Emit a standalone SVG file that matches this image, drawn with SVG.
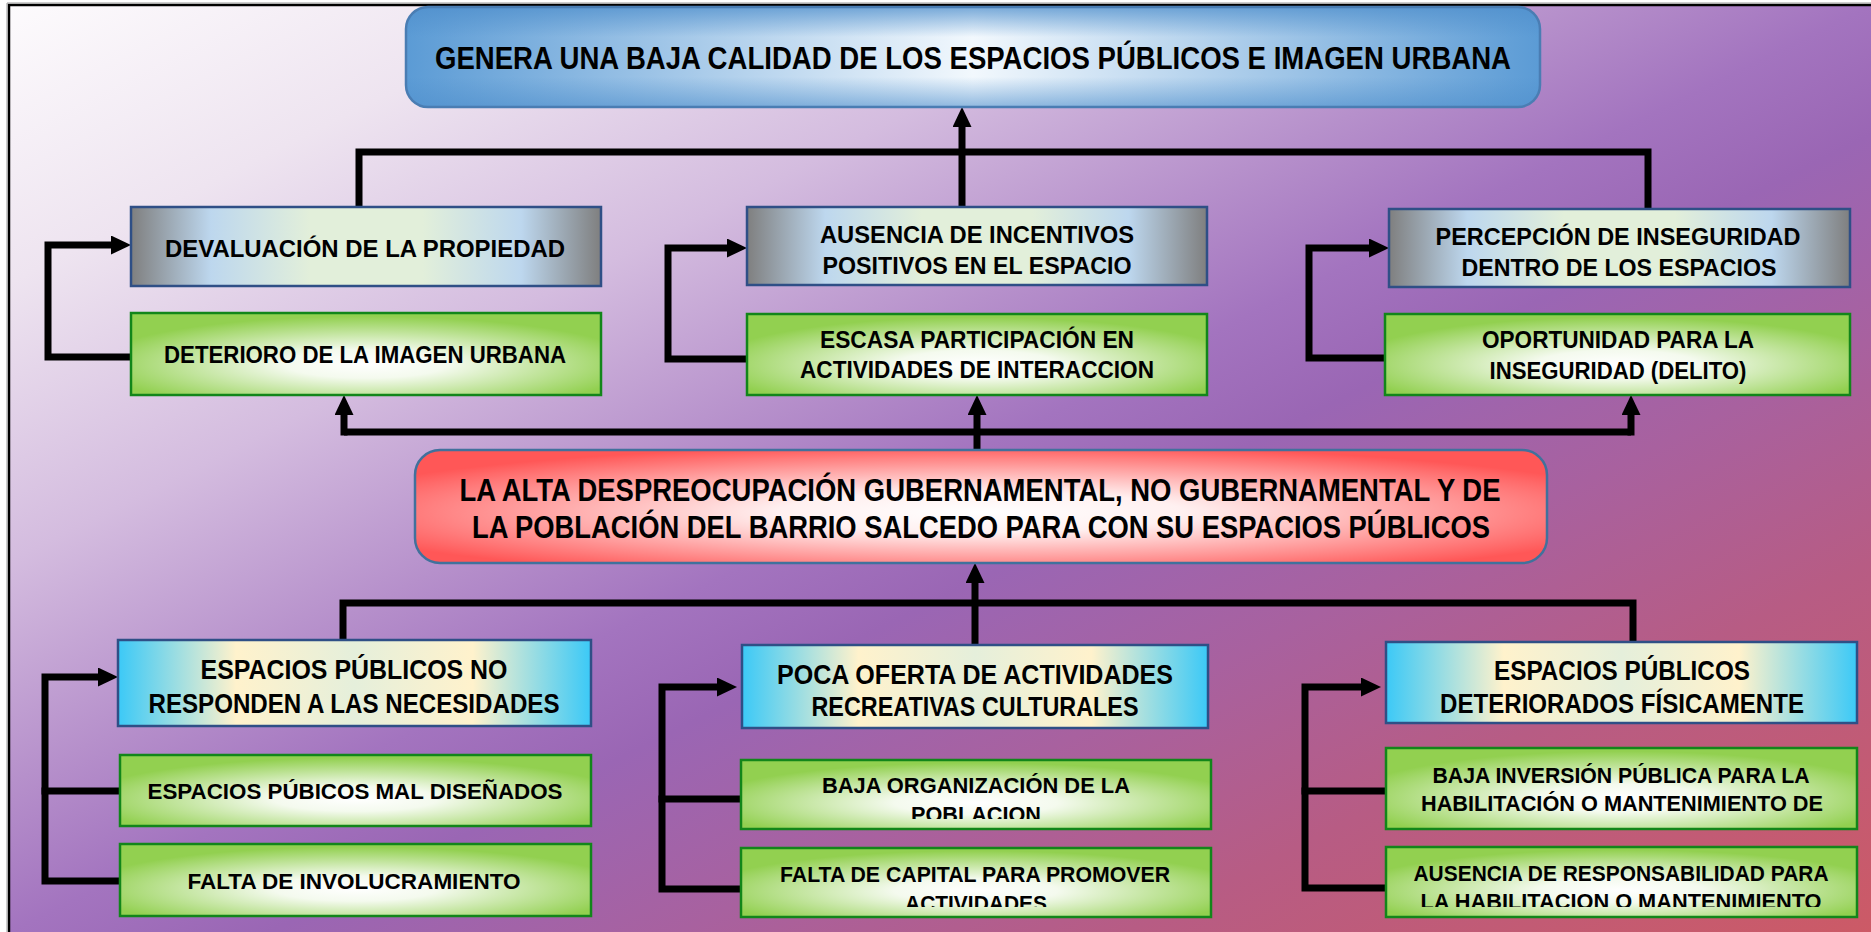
<svg xmlns="http://www.w3.org/2000/svg" width="1871" height="932" viewBox="0 0 1871 932">
<defs>
<style>
.t{font-family:"Liberation Sans",Arial,sans-serif;font-weight:bold;fill:#000;text-anchor:middle}
.big{font-size:31px}
.md{font-size:27px}
.sm{font-size:24px}
.xs{font-size:22.5px}
.ln{fill:none;stroke:#000;stroke-width:7;stroke-linejoin:miter}
.gray{fill:url(#gGray);stroke:#2f4f86;stroke-width:2.5}
.green{fill:url(#gGreen);stroke:#12861a;stroke-width:2.5}
.cyan{fill:url(#gCyan);stroke:#2f4f86;stroke-width:2.5}
</style>
<linearGradient id="bg" x1="0" y1="0" x2="1" y2="1">
<stop offset="0" stop-color="#fdfbfd"/>
<stop offset="0.15" stop-color="#eee4f0"/>
<stop offset="0.3" stop-color="#d4bcdf"/>
<stop offset="0.42" stop-color="#b690cb"/>
<stop offset="0.5" stop-color="#a374bf"/>
<stop offset="0.57" stop-color="#9a66b4"/>
<stop offset="0.68" stop-color="#a8619f"/>
<stop offset="0.8" stop-color="#b75c84"/>
<stop offset="1" stop-color="#cc5a66"/>
</linearGradient>
<linearGradient id="gBlueH" x1="0" y1="0" x2="1" y2="0">
<stop offset="0" stop-color="#5b9bd5"/>
<stop offset="0.5" stop-color="#f2f8fd"/>
<stop offset="1" stop-color="#5b9bd5"/>
</linearGradient>
<linearGradient id="gBlueV" x1="0" y1="0" x2="0" y2="1">
<stop offset="0" stop-color="#4f8fcc" stop-opacity="0.75"/>
<stop offset="0.3" stop-color="#4f8fcc" stop-opacity="0"/>
<stop offset="0.7" stop-color="#4f8fcc" stop-opacity="0"/>
<stop offset="1" stop-color="#4f8fcc" stop-opacity="0.6"/>
</linearGradient>
<linearGradient id="gGray" x1="0" y1="0" x2="1" y2="0">
<stop offset="0" stop-color="#7f7f7f"/>
<stop offset="0.17" stop-color="#bdd7ee"/>
<stop offset="0.38" stop-color="#e2efda"/>
<stop offset="0.62" stop-color="#e2efda"/>
<stop offset="0.83" stop-color="#bdd7ee"/>
<stop offset="1" stop-color="#7f7f7f"/>
</linearGradient>
<linearGradient id="gCyan" x1="0" y1="0" x2="1" y2="0">
<stop offset="0" stop-color="#3bc9f7"/>
<stop offset="0.25" stop-color="#fff2cc"/>
<stop offset="0.5" stop-color="#e5efdb"/>
<stop offset="0.75" stop-color="#fff2cc"/>
<stop offset="1" stop-color="#3bc9f7"/>
</linearGradient>
<radialGradient id="gGreen" cx="0.5" cy="0.62" r="0.58">
<stop offset="0" stop-color="#ffffff"/>
<stop offset="0.3" stop-color="#f4faee"/>
<stop offset="1" stop-color="#92d050"/>
</radialGradient>
<radialGradient id="gRed" cx="0.5" cy="0.55" r="0.6">
<stop offset="0" stop-color="#ffffff"/>
<stop offset="0.3" stop-color="#fff0f0"/>
<stop offset="1" stop-color="#ff5757"/>
</radialGradient>
<marker id="ah" markerUnits="userSpaceOnUse" markerWidth="20" markerHeight="19" viewBox="0 0 20 19" refX="8" refY="9.5" orient="auto">
<path d="M0,0 L20,9.5 L0,19 z" fill="#000"/>
</marker>
<clipPath id="c1"><rect x="741" y="760" width="470" height="59"/></clipPath>
<clipPath id="c2"><rect x="741" y="848" width="470" height="59"/></clipPath>
<clipPath id="c3"><rect x="1386" y="847" width="471" height="60"/></clipPath>
</defs>
<rect x="0" y="0" width="1871" height="932" fill="#ffffff"/>
<rect x="9" y="5" width="1862" height="927" fill="url(#bg)"/>
<path d="M9,932 L9,5 L1871,5" fill="none" stroke="#000" stroke-width="2.5"/>
<path d="M7,932 L7,3 L1871,3" fill="none" stroke="#9a9a9a" stroke-width="1"/>

<g id="connectors">
<path class="ln" d="M359,207 L359,152 L1648,152 L1648,209"/>
<path class="ln" d="M962,207 L962,119" marker-end="url(#ah)"/>
<path class="ln" d="M131,357 L48,357 L48,245 L119,245" marker-end="url(#ah)"/>
<path class="ln" d="M747,359 L668,359 L668,248 L735,248" marker-end="url(#ah)"/>
<path class="ln" d="M1387,358 L1309,358 L1309,248 L1377,248" marker-end="url(#ah)"/>
<path class="ln" d="M344,432 L1631,432"/>
<path class="ln" d="M344,435.5 L344,407" marker-end="url(#ah)"/>
<path class="ln" d="M1631,435.5 L1631,407" marker-end="url(#ah)"/>
<path class="ln" d="M977,450 L977,407" marker-end="url(#ah)"/>
<path class="ln" d="M975,645 L975,575" marker-end="url(#ah)"/>
<path class="ln" d="M343,640 L343,603 L1633,603 L1633,642"/>
<path class="ln" d="M120,881 L45,881 L45,677 L106,677" marker-end="url(#ah)"/>
<path class="ln" d="M41.5,791 L120,791"/>
<path class="ln" d="M741,889 L662,889 L662,687 L725,687" marker-end="url(#ah)"/>
<path class="ln" d="M658.5,799 L741,799"/>
<path class="ln" d="M1386,888 L1305,888 L1305,687 L1369,687" marker-end="url(#ah)"/>
<path class="ln" d="M1301.5,791 L1386,791"/>
</g>

<g id="top">
<rect x="406" y="7" width="1134" height="100" rx="22" fill="url(#gBlueH)"/>
<rect x="406" y="7" width="1134" height="100" rx="22" fill="url(#gBlueV)" stroke="#4a7db3" stroke-width="2.5"/>
<text class="t big" x="973" y="69" textLength="1076" lengthAdjust="spacingAndGlyphs">GENERA UNA BAJA CALIDAD DE LOS ESPACIOS PÚBLICOS E IMAGEN URBANA</text>
</g>

<g id="devaluacion">
<rect class="gray" x="131" y="207" width="470" height="79"/>
<text class="t sm" x="365" y="257" textLength="400" lengthAdjust="spacingAndGlyphs">DEVALUACIÓN DE LA PROPIEDAD</text>
</g>
<g id="ausencia-incentivos">
<rect class="gray" x="747" y="207" width="460" height="78"/>
<text class="t sm" x="977" y="243" textLength="314" lengthAdjust="spacingAndGlyphs">AUSENCIA DE INCENTIVOS</text>
<text class="t sm" x="977" y="274" textLength="309" lengthAdjust="spacingAndGlyphs">POSITIVOS EN EL ESPACIO</text>
</g>
<g id="percepcion">
<rect class="gray" x="1389" y="209" width="461" height="78"/>
<text class="t sm" x="1618" y="245" textLength="365" lengthAdjust="spacingAndGlyphs">PERCEPCIÓN DE INSEGURIDAD</text>
<text class="t sm" x="1619" y="276" textLength="315" lengthAdjust="spacingAndGlyphs">DENTRO DE LOS ESPACIOS</text>
</g>

<g id="deterioro">
<rect class="green" x="131" y="313" width="470" height="82"/>
<text class="t sm" x="365" y="363" textLength="402" lengthAdjust="spacingAndGlyphs">DETERIORO DE LA IMAGEN URBANA</text>
</g>
<g id="escasa">
<rect class="green" x="747" y="314" width="460" height="81"/>
<text class="t sm" x="977" y="348" textLength="314" lengthAdjust="spacingAndGlyphs">ESCASA PARTICIPACIÓN EN</text>
<text class="t sm" x="977" y="378" textLength="354" lengthAdjust="spacingAndGlyphs">ACTIVIDADES DE INTERACCION</text>
</g>
<g id="oportunidad">
<rect class="green" x="1385" y="314" width="465" height="81"/>
<text class="t sm" x="1618" y="348" textLength="272" lengthAdjust="spacingAndGlyphs">OPORTUNIDAD PARA LA</text>
<text class="t sm" x="1618" y="379" textLength="257" lengthAdjust="spacingAndGlyphs">INSEGURIDAD (DELITO)</text>
</g>

<g id="problema">
<rect x="415" y="450" width="1132" height="113" rx="25" fill="url(#gRed)" stroke="#41719c" stroke-width="2.5"/>
<text class="t big" x="980" y="501" textLength="1041" lengthAdjust="spacingAndGlyphs">LA ALTA DESPREOCUPACIÓN GUBERNAMENTAL, NO GUBERNAMENTAL Y DE</text>
<text class="t big" x="981" y="538" textLength="1018" lengthAdjust="spacingAndGlyphs">LA POBLACIÓN DEL BARRIO SALCEDO PARA CON SU ESPACIOS PÚBLICOS</text>
</g>

<g id="no-responden">
<rect class="cyan" x="118" y="640" width="473" height="86"/>
<text class="t md" x="354" y="679" textLength="307" lengthAdjust="spacingAndGlyphs">ESPACIOS PÚBLICOS NO</text>
<text class="t md" x="354" y="713" textLength="411" lengthAdjust="spacingAndGlyphs">RESPONDEN A LAS NECESIDADES</text>
</g>
<g id="poca-oferta">
<rect class="cyan" x="742" y="645" width="466" height="83"/>
<text class="t md" x="975" y="684" textLength="396" lengthAdjust="spacingAndGlyphs">POCA OFERTA DE ACTIVIDADES</text>
<text class="t md" x="975" y="716" textLength="327" lengthAdjust="spacingAndGlyphs">RECREATIVAS CULTURALES</text>
</g>
<g id="deteriorados">
<rect class="cyan" x="1386" y="642" width="471" height="81"/>
<text class="t md" x="1622" y="680" textLength="256" lengthAdjust="spacingAndGlyphs">ESPACIOS PÚBLICOS</text>
<text class="t md" x="1622" y="713" textLength="364" lengthAdjust="spacingAndGlyphs">DETERIORADOS FÍSICAMENTE</text>
</g>

<g id="mal-disenados">
<rect class="green" x="120" y="755" width="471" height="71"/>
<text class="t xs" x="355" y="799" textLength="415" lengthAdjust="spacingAndGlyphs">ESPACIOS PÚBICOS MAL DISEÑADOS</text>
</g>
<g id="involucramiento">
<rect class="green" x="120" y="844" width="471" height="72"/>
<text class="t xs" x="354" y="889" textLength="333" lengthAdjust="spacingAndGlyphs">FALTA DE INVOLUCRAMIENTO</text>
</g>
<g id="baja-organizacion">
<rect class="green" x="741" y="760" width="470" height="69"/>
<g clip-path="url(#c1)">
<text class="t xs" x="976" y="793" textLength="308" lengthAdjust="spacingAndGlyphs">BAJA ORGANIZACIÓN DE LA</text>
<text class="t xs" x="976" y="822" textLength="130" lengthAdjust="spacingAndGlyphs">POBLACION</text>
</g>
</g>
<g id="falta-capital">
<rect class="green" x="741" y="848" width="470" height="69"/>
<g clip-path="url(#c2)">
<text class="t xs" x="975" y="882" textLength="390" lengthAdjust="spacingAndGlyphs">FALTA DE CAPITAL PARA PROMOVER</text>
<text class="t xs" x="976" y="911" textLength="142" lengthAdjust="spacingAndGlyphs">ACTIVIDADES</text>
</g>
</g>
<g id="baja-inversion">
<rect class="green" x="1386" y="748" width="471" height="81"/>
<text class="t xs" x="1621" y="783" textLength="377" lengthAdjust="spacingAndGlyphs">BAJA INVERSIÓN PÚBLICA PARA LA</text>
<text class="t xs" x="1622" y="811" textLength="402" lengthAdjust="spacingAndGlyphs">HABILITACIÓN O MANTENIMIENTO DE</text>
</g>
<g id="ausencia-responsabilidad">
<rect class="green" x="1386" y="847" width="471" height="70"/>
<g clip-path="url(#c3)">
<text class="t xs" x="1621" y="881" textLength="415" lengthAdjust="spacingAndGlyphs">AUSENCIA DE RESPONSABILIDAD PARA</text>
<text class="t xs" x="1621" y="909" textLength="401" lengthAdjust="spacingAndGlyphs">LA HABILITACION O MANTENIMIENTO</text>
</g>
</g>
</svg>
